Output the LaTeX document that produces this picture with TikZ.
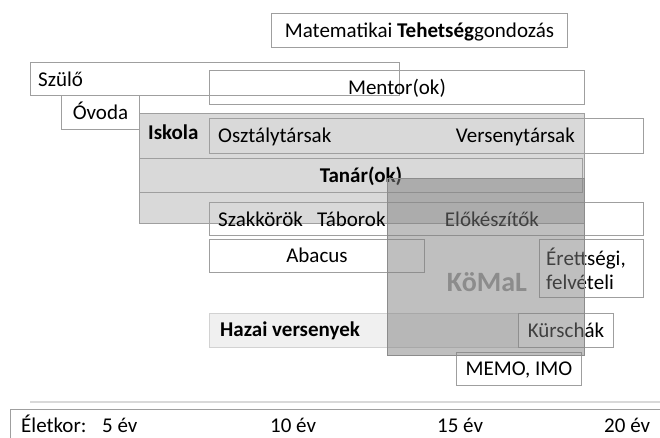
\documentclass[tikz,border=0pt]{standalone}
\usepackage{fontspec}
\setmainfont{Carlito}

\begin{document}
\begin{tikzpicture}[x=1pt,y=-1pt,
  frame/.style={draw=gray!75,line width=0.9pt,inner sep=0pt,anchor=north west,
    text height=14.5pt,text depth=1pt,font=\fontsize{21}{25}\selectfont},
  band/.style={frame,fill=gray!30},
  lbl/.style={inner sep=0pt,anchor=base west,font=\fontsize{21}{25}\selectfont},
  boldlbl/.style={lbl,font=\bfseries\fontsize{21}{25}\selectfont}]
\useasboundingbox (0,0) rectangle (660,437);

\node[frame,minimum width=296,minimum height=34] (mtg) at (271,13) {Matematikai \textbf{Tehetség}gondozás};

\node[frame,minimum width=369,minimum height=33] (szulo) at (30,62) {};
\node[frame,minimum width=375,minimum height=34] (mentor) at (209,70) {Mentor(ok)};
\node[lbl] (szulotxt) at (38,86) {Szülő};
\node[frame,minimum width=78,minimum height=34] (ovoda) at (61,95) {Óvoda};

% Iskola
\node[band,minimum width=445,minimum height=110] (iskola) at (139,113) {};
\node[boldlbl] (iskolatxt) at (148,139) {Iskola};
\node[frame,minimum width=434,minimum height=35] (osztaly) at (209,118) {};
\node[lbl] (osztalytxt) at (218,142) {Osztálytársak};
\node[lbl,anchor=base east] (versenytxt) at (575,142) {Versenytársak};
\node[band,minimum width=443,minimum height=34,font=\bfseries\fontsize{21}{25}\selectfont] (tanar) at (139,158) {Tanár(ok)};
\node[frame,minimum width=434,minimum height=33] (szakkor) at (209,202) {};
\node[lbl] (szakkortxt) at (218,226) {Szakkörök};
\node[lbl] (taborTxt) at (317,226) {Táborok};
\node[lbl,anchor=base] (elokeszTxt) at (492,226) {Előkészítők};

\node[frame,minimum width=215,minimum height=33] (abacus) at (209,239) {Abacus};
\node[frame,minimum width=104,minimum height=58] (erettsegi) at (539,239) {};
\node[lbl] (erettsegiTxt) at (546,265) {Érettségi,};
\node[lbl] (felveteliTxt) at (546,289) {felvételi};

% versenyek
\node[frame,draw=gray!35,fill=gray!12,minimum width=309,minimum height=34] (hazai) at (209,313) {};
\node[boldlbl] (hazaitxt) at (220,336) {Hazai versenyek};
\node[frame,minimum width=95,minimum height=34] (kurschak) at (518,313) {Kürschák};
\node[frame,minimum width=125,minimum height=33] (memo) at (456,352) {MEMO, IMO};

% KoMaL
\node[frame,draw=gray!90,fill=gray,fill opacity=0.5,minimum width=197,minimum height=177] (komal) at (387,178) {};
\node[inner sep=0pt,anchor=base,text=gray!90,font=\bfseries\fontsize{28}{32}\selectfont] (komaltxt) at (487,291) {KöMaL};

% eletkor
\draw[gray!30,line width=1.5pt] (30,402) -- (660,402);
\node[frame,minimum width=680,minimum height=40] (kor) at (10,409) {};
\node[lbl] (kortxt) at (21,432) {Életkor:};
\node[lbl] (ev5) at (102,432) {5 év};
\node[lbl] (ev10) at (270,432) {10 év};
\node[lbl] (ev15) at (437,432) {15 év};
\node[lbl] (ev20) at (604,432) {20 év};
\end{tikzpicture}
\end{document}
